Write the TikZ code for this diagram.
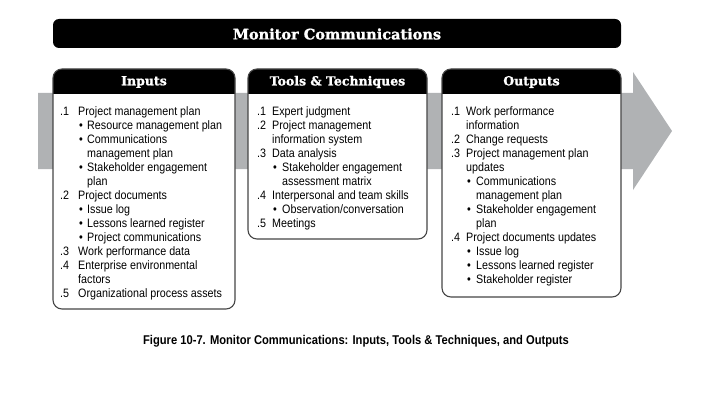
\documentclass[tikz,border=0pt]{standalone}
\usepackage{fontspec}
\setmainfont{Liberation Sans}[FakeStretch=0.88]
\newfontfamily\slabfont{DejaVu Serif}[BoldFeatures={FakeBold=1.2}]
\begin{document}
\begin{tikzpicture}[x=1pt,y=-1pt,
  flow/.style={fill=arrowgrey},
  panel/.style={draw=panelline,line width=1.1pt,rounded corners=9pt},
  bandtext/.style={text=white,font=\slabfont\bfseries\fontsize{12.5}{14}\selectfont,inner sep=0pt},
  item/.style={anchor=base west,inner sep=0pt,font=\fontsize{12.2}{14}\selectfont},
  caption/.style={inner sep=0pt,font=\bfseries\fontsize{12.7}{15}\selectfont}]
\definecolor{arrowgrey}{RGB}{176,178,180}
\definecolor{panelline}{RGB}{70,70,70}
\useasboundingbox (0,0) rectangle (706,417);

% broad grey process arrow behind the panels
\fill[flow] (38,93) -- (633,93) -- (633,72) -- (672,131) -- (633,190) -- (633,169) -- (38,169) -- cycle;

% title bar
\fill[black,rounded corners=6pt] (53,19) rectangle (621,48);
\node[bandtext,font=\slabfont\bfseries\fontsize{14.5}{16}\selectfont] (title) at (337,34) {Monitor Communications};

% panels with black header strips
\foreach \name/\xa/\xb/\yb/\head in {inputs/53/235/309/Inputs,tools/248/427/239/Tools \& Techniques,outputs/442/621/297/Outputs}{
  \fill[white,rounded corners=9pt] (\xa,69) rectangle (\xb,\yb);
  \fill[black] (\xa,94) {[rounded corners=9pt] -- (\xa,69) -- (\xb,69)} -- (\xb,94) -- cycle;
  \draw[panel] (\xa,69) rectangle (\xb,\yb);
  \node[bandtext] (\name-head) at ({(\xa+\xb)/2},82) {\head};
}

% list entries: n = numbered, c = continuation, b = bullet, d = bullet continuation
\newcommand\listblock[6]{%
  \foreach \kind/\num/\txt [count=\i] in {#6}{
    \pgfmathsetmacro\yy{#5+14*(\i-1)}
    \if n\kind
      \node[item] (#1-num\i) at (#2,\yy) {\num};
      \node[item] (#1-line\i) at (#3,\yy) {\txt};
    \fi
    \if c\kind
      \node[item] (#1-line\i) at (#3,\yy) {\txt};
    \fi
    \if b\kind
      \node[item] (#1-num\i) at (#3+1,\yy) {•};
      \node[item] (#1-line\i) at (#4,\yy) {\txt};
    \fi
    \if d\kind
      \node[item] (#1-line\i) at (#4,\yy) {\txt};
    \fi
  }}

\listblock{in}{60}{78}{87}{115}{
  n/.1/Project management plan,
  b//Resource management plan,
  b//Communications,
  d//management plan,
  b//Stakeholder engagement,
  d//plan,
  n/.2/Project documents,
  b//Issue log,
  b//Lessons learned register,
  b//Project communications,
  n/.3/Work performance data,
  n/.4/Enterprise environmental,
  c//factors,
  n/.5/Organizational process assets}

\listblock{tt}{257}{272}{282}{115}{
  n/.1/Expert judgment,
  n/.2/Project management,
  c//information system,
  n/.3/Data analysis,
  b//Stakeholder engagement,
  d//assessment matrix,
  n/.4/Interpersonal and team skills,
  b//{Observation/conversation},
  n/.5/Meetings}

\listblock{out}{451}{466}{476}{115}{
  n/.1/Work performance,
  c//information,
  n/.2/Change requests,
  n/.3/Project management plan,
  c//updates,
  b//Communications,
  d//management plan,
  b//Stakeholder engagement,
  d//plan,
  n/.4/Project documents updates,
  b//Issue log,
  b//Lessons learned register,
  b//Stakeholder register}

\node[caption] (cap) at (356,341) {Figure 10-7. Monitor Communications: Inputs, Tools \& Techniques, and Outputs};
\end{tikzpicture}
\end{document}
